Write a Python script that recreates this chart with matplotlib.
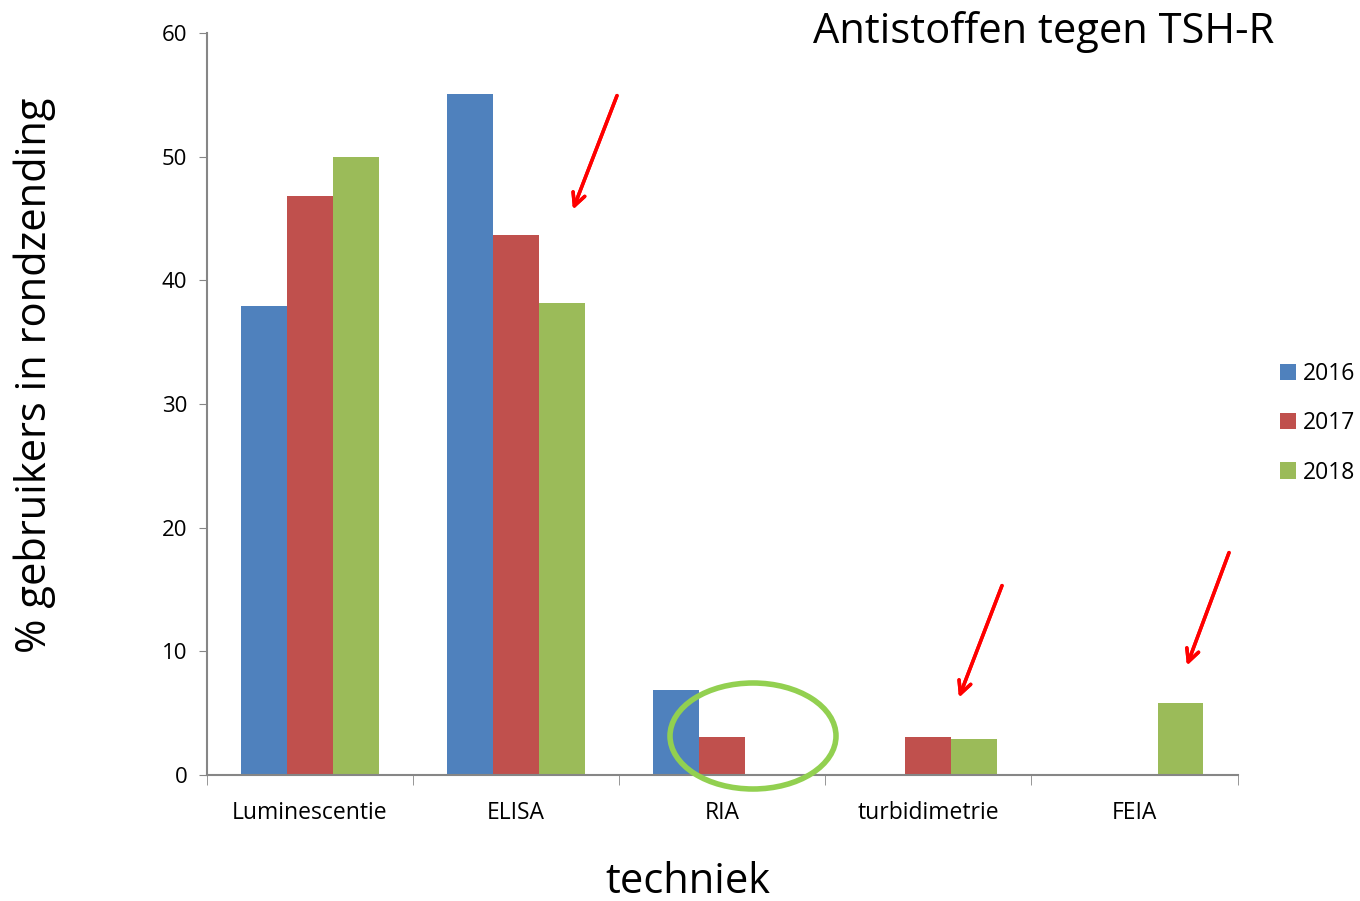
import numpy as np
import matplotlib.pyplot as plt
from matplotlib.patches import Ellipse

categories = ['Luminescentie', 'ELISA', 'RIA', 'turbidimetrie', 'FEIA']
years = ['2016', '2017', '2018']
v2016 = [37.9, 55.1, 6.85, 0, 0]
v2017 = [46.8, 43.7, 3.1, 3.1, 0]
v2018 = [50.0, 38.2, 0, 2.95, 5.85]
colors = ['#4F81BD', '#C0504D', '#9BBB59']

plt.rcParams['font.family'] = ['Open Sans', 'DejaVu Sans']

fig = plt.figure(figsize=(13.6, 9.01), dpi=100)
ax = fig.add_axes([0.152, 0.1398, 0.758, 0.8236])

x = np.arange(len(categories))
w = 0.223
for i, (vals, c, lab) in enumerate(zip([v2016, v2017, v2018], colors, years)):
    ax.bar(x + (i - 1) * w, vals, w, color=c, label=lab)

ax.set_xlim(-0.5, len(categories) - 0.5)
ax.set_ylim(0, 60)
ax.set_yticks(range(0, 61, 10))
ax.set_xticks(x)
ax.set_xticklabels(categories, fontsize=16.5)
ax.set_xticks(np.arange(-0.5, len(categories), 1), minor=True)
ax.tick_params(axis='x', which='major', length=0, pad=19)
ax.tick_params(axis='x', which='minor', length=7, color='#868686', direction='out')
ax.tick_params(axis='y', length=6, color='#868686', labelsize=16, pad=8)
for s in ['top', 'right']:
    ax.spines[s].set_visible(False)
for s in ['left', 'bottom']:
    ax.spines[s].set_color('#868686')
    ax.spines[s].set_linewidth(1.5)

ax.set_ylabel('% gebruikers in rondzending', fontsize=30, va='center')
ax.yaxis.set_label_coords(-0.167, 0.539)
ax.set_xlabel('techniek', fontsize=30, va='center')
ax.xaxis.set_label_coords(0.4665, -0.144)

fig.text(0.937, 0.965, 'Antistoffen tegen TSH-R', fontsize=30, ha='right', va='center')

ax.legend(loc='center left', bbox_to_anchor=(1.021, 0.474), frameon=False, fontsize=16.5,
          handlelength=0.7, handleheight=0.7, handletextpad=0.3, labelspacing=1.1)

# annotations: red arrows and green ellipse (figure pixel positions)
H = 901.0
W = 1360.0
arrows = [((618, 93), (572, 212)), ((1003, 583), (958, 700)), ((1230, 550), (1186, 668))]
for (x0, y0), (x1, y1) in arrows:
    fig.add_artist(plt.annotate('', xy=(x1 / W, 1 - y1 / H), xytext=(x0 / W, 1 - y0 / H),
                                xycoords='figure fraction', textcoords='figure fraction',
                                arrowprops=dict(arrowstyle='->,head_length=0.9,head_width=0.45',
                                                color='red', lw=2.5)))
fig.add_artist(Ellipse((753 / W, 1 - 736 / H), 166 / W, 106 / H, transform=fig.transFigure,
                       fill=False, edgecolor='#92D050', lw=4))

fig.savefig('out.png', dpi=100)
